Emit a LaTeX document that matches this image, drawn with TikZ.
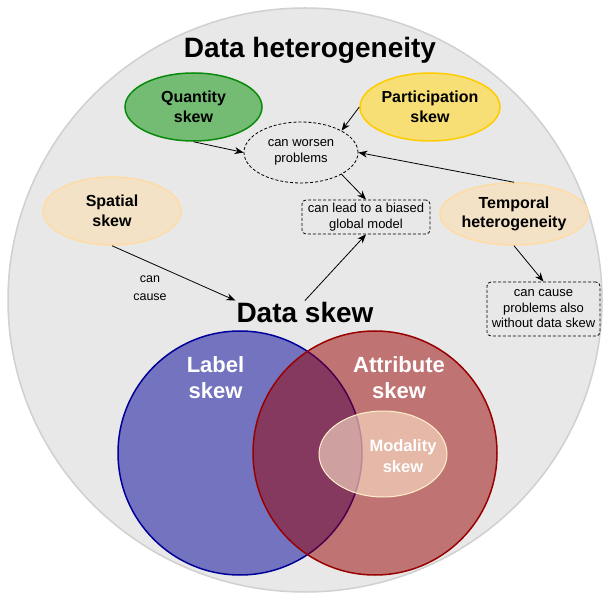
\documentclass[tikz,border=0pt]{standalone}
\usepackage{fontspec}
\setmainfont{Liberation Sans}
\usetikzlibrary{arrows.meta,shapes.geometric}
\definecolor{hetfill}{HTML}{E8E8E8}
\definecolor{hetdraw}{HTML}{D0D0D0}
\definecolor{quantfill}{HTML}{74BC74}
\definecolor{quantdraw}{HTML}{0A8A0A}
\definecolor{partfill}{HTML}{F7DE75}
\definecolor{partdraw}{HTML}{FFCC00}
\definecolor{softfill}{HTML}{F4E2C6}
\definecolor{softdraw}{HTML}{FFDCA6}
\definecolor{labelblue}{HTML}{000099}
\definecolor{attrred}{HTML}{990000}
\definecolor{modfill}{HTML}{FFE6CC}
\definecolor{moddraw}{HTML}{FFF2CC}
\tikzset{
  skewnode/.style={
    ellipse,
    line width=1.5pt,
    align=center,
    inner sep=0pt,
    font=\fontsize{16}{19.5}\selectfont\bfseries
  },
  notebox/.style={
    rectangle,
    rounded corners=4pt,
    draw,
    line width=0.8pt,
    dash pattern=on 3pt off 2pt,
    align=center,
    inner sep=0pt,
    font=\fontsize{13}{15.5}\selectfont
  },
  vennset/.style={
    circle,
    line width=1.5pt,
    fill opacity=0.5,
    inner sep=0pt,
    minimum size=244pt
  },
  venntext/.style={
    align=center,
    text=white,
    font=\fontsize{22}{26}\selectfont\bfseries
  },
  bigtitle/.style={
    font=\fontsize{28}{31}\selectfont\bfseries,
    inner sep=1pt
  },
  flowline/.style={-{Stealth[length=9pt,width=7pt]},line width=0.8pt}
}
\begin{document}
\begin{tikzpicture}[x=1pt,y=-1pt]
  \useasboundingbox (0,0) rectangle (605,593);
  \node[ellipse, fill=hetfill, draw=hetdraw, line width=1.5pt,
        minimum width=594pt, minimum height=584pt] (hetero) at (305,300) {};
  \node[bigtitle] (title) at (310,50) {Data heterogeneity};

  % skew types
  \node[skewnode, fill=quantfill, draw=quantdraw, minimum width=137pt, minimum height=68pt]
    (quantity) at (193.5,107) {Quantity\\skew};
  \node[skewnode, fill=partfill, draw=partdraw, minimum width=140pt, minimum height=68pt]
    (participation) at (430,107) {Participation\\skew};
  \node[skewnode, fill=softfill, draw=softdraw, minimum width=138pt, minimum height=68pt]
    (spatial) at (112,211) {Spatial\\skew};
  \node[skewnode, fill=softfill, draw=softdraw, minimum width=138pt, minimum height=62pt]
    (temporal) at (514,214) {Temporal\\heterogeneity};

  % notes
  \node[ellipse, draw, line width=0.8pt, dash pattern=on 3pt off 2pt, align=center, inner sep=0pt,
        font=\fontsize{13}{15.5}\selectfont, minimum width=114pt, minimum height=61pt]
    (worsen) at (301,152.5) {can worsen\\problems};
  \node[notebox, minimum width=128pt, minimum height=34pt] (biased) at (366,217)
    {can lead to a biased\\global model};
  \node[notebox, minimum width=113pt, minimum height=54pt] (alsocause) at (543.5,309)
    {can cause\\problems also\\without data skew};
  \node[align=center, font=\fontsize{12.5}{18}\selectfont] (cancause) at (150,288) {can\\cause};

  \node[bigtitle] (dataskew) at (305,312) {Data skew};

  % venn diagram
  \node[vennset, fill=labelblue, draw=labelblue] (labelset) at (240,453) {};
  \node[vennset, fill=attrred, draw=attrred] (attrset) at (375,453) {};
  \node[ellipse, fill=modfill, fill opacity=0.6, draw=moddraw, line width=1pt,
        minimum width=128pt, minimum height=86pt] (modset) at (383,454) {};
  \node[venntext] (labeltxt) at (215.5,378) {Label\\skew};
  \node[venntext] (attrtxt) at (399,378) {Attribute\\skew};
  \node[venntext, font=\fontsize{16.5}{20.5}\selectfont\bfseries] (modtxt) at (403,456) {Modality\\skew};

  % connectors
  \draw[flowline] (quantity.south) -- (worsen.west);
  \draw[flowline] (participation.west) -- (worsen.north east);
  \draw[flowline] (temporal.north) -- (worsen.east);
  \draw[flowline] (worsen.south east) -- (biased.north);
  \draw[flowline] (dataskew.north) -- (biased.south);
  \draw[flowline] (spatial.south) -- (dataskew.north west);
  \draw[flowline] (temporal.south) -- (alsocause.north);
\end{tikzpicture}
\end{document}
